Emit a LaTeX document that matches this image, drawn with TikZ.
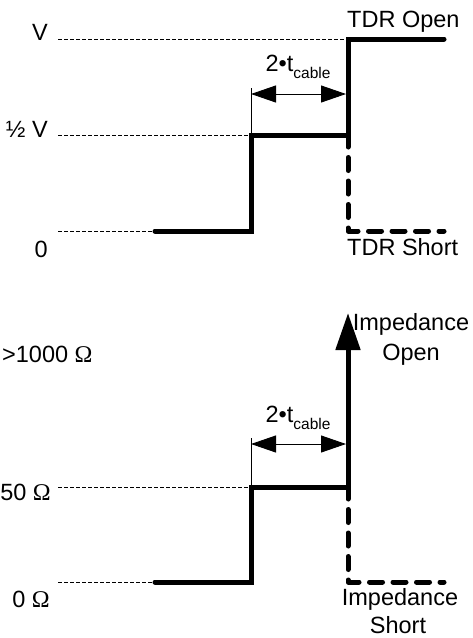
\documentclass[tikz,border=0pt]{standalone}
\usepackage{fontspec}
\setmainfont{Liberation Sans}
\newfontfamily\omegafont{Liberation Serif}
\usetikzlibrary{arrows.meta}
\begin{document}
\begin{tikzpicture}[x=1pt,y=-1pt,
  lbl/.style={inner sep=0pt,font=\fontsize{23.5}{28}\selectfont},
  guide/.style={line width=0.9pt,dash pattern=on 3.5pt off 2.5pt},
  trace/.style={line width=5pt,line cap=round,line join=miter},
  tracedash/.style={line width=5pt,line cap=round,line join=round,dash pattern=on 13pt off 10.5pt,dash phase=1pt},
  thin/.style={line width=0.9pt},
  meas/.style={line width=0.9pt,{Triangle[length=25pt,width=17pt]}-{Triangle[length=25pt,width=17pt]}}
]
\useasboundingbox (0,0) rectangle (472,638);
\newcommand{\om}{{\omegafont\fontsize{24}{28}\selectfont Ω}}
\newcommand{\tcable}{2•t\raisebox{-7pt}{\fontsize{15.5}{16}\selectfont cable}}
% ---------- top diagram ----------
\node[lbl,anchor=base east] (lV) at (48,40) {V};
\node[lbl,anchor=base east] (lH) at (48,137) {½ V};
\node[lbl,anchor=base east] (lZ) at (48,257) {0};
\node[lbl,anchor=base west] (lOpen) at (347,27) {TDR Open};
\node[lbl,anchor=base west] (lShort) at (347,255) {TDR Short};
\coordinate (gV) at (58,39);
\coordinate (gH) at (58,135);
\coordinate (gZ) at (58,231);
\coordinate (a0) at (155,231);
\coordinate (a1) at (251,231);
\coordinate (a2) at (251,135);
\coordinate (a3) at (348,135);
\coordinate (a4) at (348,39);
\coordinate (a5) at (444,39);
\coordinate (a6) at (348,231);
\coordinate (a7) at (444,231);
\coordinate (ae) at (251,88);
\coordinate (am1) at (251,94);
\coordinate (am2) at (346,94);
\draw[guide] (gV) -- (a4);
\draw[guide] (gH) -- (a2);
\draw[guide] (gZ) -- (a0);
\draw[trace] (a0) -- (a1) -- (a2) -- (a3) -- (a4) -- (a5);
\draw[tracedash] (a3) -- (a6) -- (a7);
\draw[thin] (ae) -- (a2);
\draw[meas] (am1) -- (am2);
\node[lbl,anchor=base] (tA) at (298,71) {\tcable};
% ---------- bottom diagram ----------
\node[lbl,anchor=base west] (lK) at (2,362) {>1000 \om};
\node[lbl,anchor=base east] (l50) at (51,500) {50 \om};
\node[lbl,anchor=base east] (l0) at (50,607) {0 \om};
\node[lbl,anchor=base] (iO1) at (411,330) {Impedance};
\node[lbl,anchor=base] (iO2) at (411,360) {Open};
\node[lbl,anchor=base] (iS1) at (400,605) {Impedance};
\node[lbl,anchor=base] (iS2) at (398,633) {Short};
\coordinate (g50) at (58,487);
\coordinate (g0) at (58,582);
\coordinate (b0) at (155,582);
\coordinate (b1) at (251,582);
\coordinate (b2) at (251,487);
\coordinate (b3) at (348,487);
\coordinate (btip) at (348,313);
\coordinate (b6) at (348,582);
\coordinate (b7) at (444,582);
\coordinate (be) at (251,438);
\coordinate (bm1) at (251,444);
\coordinate (bm2) at (346,444);
\draw[guide] (g50) -- (b2);
\draw[guide] (g0) -- (b0);
\draw[trace,-{Triangle[length=37pt,width=24pt]}] (b0) -- (b1) -- (b2) -- (b3) -- (btip);
\draw[tracedash] (b3) -- (b6) -- (b7);
\draw[thin] (be) -- (b2);
\draw[meas] (bm1) -- (bm2);
\node[lbl,anchor=base] (tB) at (298,422) {\tcable};
\end{tikzpicture}
\end{document}
